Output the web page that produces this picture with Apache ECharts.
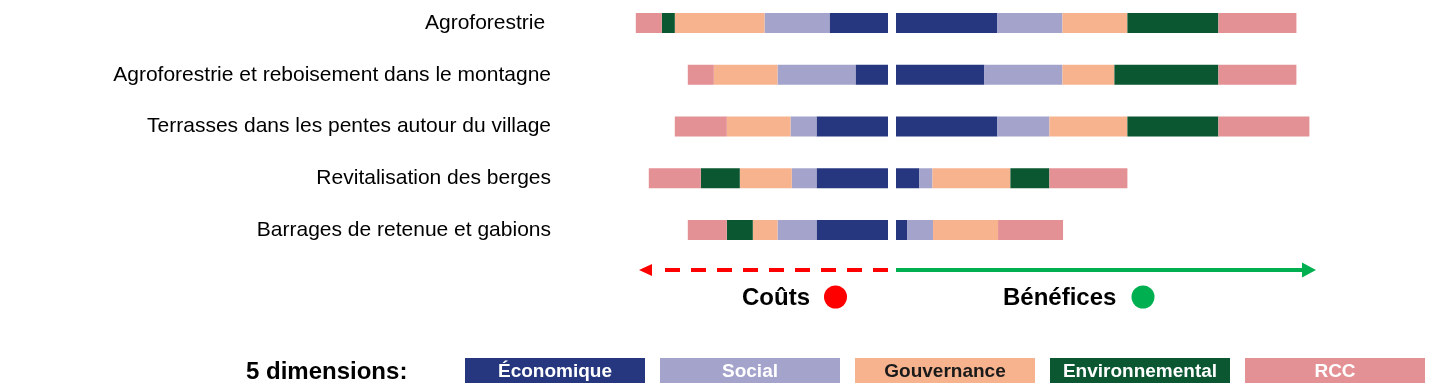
<!DOCTYPE html>
<html>
<head>
<meta charset="utf-8">
<script src="https://cdn.jsdelivr.net/npm/echarts@6/dist/echarts.min.js"></script>
<style>
html,body{margin:0;padding:0;background:#fff;}
#chart{width:1432px;height:389px;}
</style>
</head>
<body>
<div id="chart"></div>
<script>
// ---- data ----
const categories = [
  'Agroforestrie ',
  'Agroforestrie et reboisement dans le montagne',
  'Terrasses dans les pentes autour du village',
  'Revitalisation des berges',
  'Barrages de retenue et gabions'
];
const dimensions = ['Économique', 'Social', 'Gouvernance', 'Environnemental', 'RCC'];
// costs (left side), per dimension, per category
const costEconomique      = [4.5, 2.5, 5.5, 5.5, 5.5];
const costSocial          = [5.0, 6.0, 2.0, 1.9, 3.0];
const costGouvernance     = [6.9, 4.9, 4.9, 4.0, 1.9];
const costEnvironnemental = [1.0, 0.0, 0.0, 3.0, 2.0];
const costRCC             = [2.0, 2.0, 4.0, 4.0, 3.0];
// benefits (right side)
const benEconomique      = [7.8, 6.8, 7.8, 1.8, 0.85];
const benSocial          = [5.0, 6.0, 4.0, 1.0, 2.0];
const benGouvernance     = [5.0, 4.0, 6.0, 6.0, 5.0];
const benEnvironnemental = [7.0, 8.0, 7.0, 3.0, 0.0];
const benRCC             = [6.0, 6.0, 7.0, 6.0, 5.0];

const colors = ['#27377f', '#a3a3cc', '#f6b38e', '#0b5731', '#e39194'];
const legendTextColors = ['#ffffff', '#ffffff', '#1a1a1a', '#ffffff', '#ffffff'];

const costSets = [costEconomique, costSocial, costGouvernance, costEnvironnemental, costRCC];
const benSets = [benEconomique, benSocial, benGouvernance, benEnvironnemental, benRCC];

const FONT = '"Liberation Sans", Arial, sans-serif';

const series = [];
dimensions.forEach((d, i) => {
  series.push({
    name: d, type: 'bar', stack: 'cost', xAxisIndex: 0, yAxisIndex: 0,
    barWidth: 20, data: costSets[i], itemStyle: {color: colors[i]}, silent: true
  });
});
dimensions.forEach((d, i) => {
  series.push({
    name: d, type: 'bar', stack: 'benefit', xAxisIndex: 1, yAxisIndex: 1,
    barWidth: 20, data: benSets[i], itemStyle: {color: colors[i]}, silent: true
  });
});

const graphics = [];
// arrows
graphics.push({type: 'line', shape: {x1: 888, y1: 270, x2: 658, y2: 270},
  style: {stroke: '#ff0000', lineWidth: 4, lineDash: [15, 11]}});
graphics.push({type: 'polygon', shape: {points: [[639, 270], [652, 264], [652, 276]]},
  style: {fill: '#ff0000'}});
graphics.push({type: 'line', shape: {x1: 896, y1: 270, x2: 1303, y2: 270},
  style: {stroke: '#00b050', lineWidth: 4}});
graphics.push({type: 'polygon', shape: {points: [[1316, 270], [1302, 262.5], [1302, 277.5]]},
  style: {fill: '#00b050'}});
// Coûts / Bénéfices
graphics.push({type: 'text', x: 742, y: 298, style: {text: 'Coûts', fill: '#000', font: 'bold 24px ' + FONT, textVerticalAlign: 'middle'}});
graphics.push({type: 'circle', shape: {cx: 835.5, cy: 297, r: 11.5}, style: {fill: '#ff0000'}});
graphics.push({type: 'text', x: 1003, y: 298, style: {text: 'Bénéfices', fill: '#000', font: 'bold 24px ' + FONT, textVerticalAlign: 'middle'}});
graphics.push({type: 'circle', shape: {cx: 1143, cy: 297, r: 11.5}, style: {fill: '#00b050'}});
// legend
graphics.push({type: 'text', x: 246, y: 372, style: {text: '5 dimensions:', fill: '#000', font: 'bold 24px ' + FONT, textVerticalAlign: 'middle'}});
dimensions.forEach((d, i) => {
  graphics.push({
    type: 'rect', shape: {x: 465 + i * 195, y: 358, width: 180, height: 25},
    style: {fill: colors[i]}
  });
  graphics.push({
    type: 'text', x: 465 + i * 195 + 90, y: 371.5,
    style: {text: d, fill: legendTextColors[i], font: 'bold 19px ' + FONT,
            textAlign: 'center', textVerticalAlign: 'middle'}
  });
});

const chart = echarts.init(document.getElementById('chart'), null, {renderer: 'canvas'});
chart.setOption({
  animation: false,
  backgroundColor: '#ffffff',
  grid: [
    {left: 628, width: 260, top: 23, height: 207},
    {left: 896, width: 442, top: 23, height: 207}
  ],
  xAxis: [
    {gridIndex: 0, type: 'value', min: 0, max: 20, inverse: true, show: false},
    {gridIndex: 1, type: 'value', min: 0, max: 34, show: false}
  ],
  yAxis: [
    {gridIndex: 0, type: 'category', data: categories, inverse: true, boundaryGap: false,
     position: 'left',
     axisLine: {show: false, onZero: false}, axisTick: {show: false}, splitLine: {show: false},
     axisLabel: {margin: 77, fontSize: 21, color: '#000', fontFamily: FONT}},
    {gridIndex: 1, type: 'category', data: categories, inverse: true, boundaryGap: false,
     show: false}
  ],
  series: series,
  graphic: graphics
});
</script>
</body>
</html>
